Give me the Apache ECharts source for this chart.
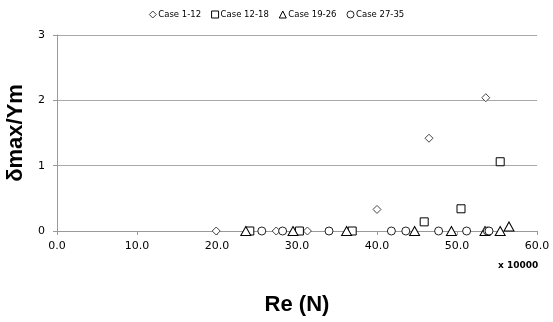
<!DOCTYPE html>
<html>
<head>
<meta charset="utf-8">
<script src="https://cdn.jsdelivr.net/npm/echarts@6/dist/echarts.min.js"></script>
<style>html,body{margin:0;padding:0;background:#fff}#c{width:553px;height:322px}</style>
</head>
<body>
<div id="c"></div>
<script>
var seriesNames = ['Case 1-12', 'Case 12-18', 'Case 19-26', 'Case 27-35'];
var case1_12 = [[19.9,0],[27.4,0],[31.3,0],[40.0,0.33],[46.5,1.42],[53.6,2.04]];
var case12_18 = [[24.1,0],[30.3,0],[36.9,0],[45.9,0.14],[50.5,0.34],[55.4,1.06]];
var case19_26 = [[23.6,0],[29.5,0],[36.2,0],[44.7,0],[49.3,0],[53.5,0],[55.4,0],[56.5,0.07]];
var case27_35 = [[25.6,0],[28.2,0],[34.0,0],[41.8,0],[43.6,0],[47.7,0],[51.2,0],[53.8,0],[54.0,0]];
var xTicks = [0,10,20,30,40,50,60];
var yTicks = [0,1,2,3];

var chart = echarts.init(document.getElementById('c'));
var font = 'Tahoma, "DejaVu Sans", sans-serif';
function sc(name, data, symbol, size, border) {
  return {
    name: name, type: 'scatter', data: data, symbol: symbol, symbolSize: size,
    itemStyle: {color: '#fff', borderColor: border, borderWidth: 1, opacity: 1},
    emphasis: {disabled: true}
  };
}
chart.setOption({
  animation: false,
  legend: {
    top: 5, left: 'center', itemWidth: 7, itemHeight: 7, itemGap: 10,
    itemStyle: {borderWidth: 1},
    textStyle: {fontSize: 8.5, fontFamily: font, color: '#000', padding: [0,0,0,-3]},
    data: seriesNames
  },
  grid: {left: 57, right: 16, top: 35, bottom: 91, outerBoundsMode: 'none', containLabel: false},
  xAxis: {
    type: 'value', min: xTicks[0], max: xTicks[xTicks.length-1], interval: 10,
    name: 'Re (N)', nameLocation: 'middle', nameGap: 63,
    nameTextStyle: {fontSize: 22, fontWeight: 'bold', fontFamily: 'Arial, "Liberation Sans", sans-serif', color: '#000'},
    axisLine: {show: true, lineStyle: {color: '#999'}},
    axisTick: {show: true, length: 4, lineStyle: {color: '#999'}},
    axisLabel: {fontSize: 11, fontFamily: font, color: '#000', margin: 10, formatter: function(v){return v.toFixed(1);}},
    splitLine: {show: false}
  },
  yAxis: {
    type: 'value', min: yTicks[0], max: yTicks[yTicks.length-1], interval: 1,
    name: 'δmax/Ym', nameLocation: 'middle', nameGap: 27,
    nameTextStyle: {fontSize: 22, fontWeight: 'bold', fontFamily: 'Arial, "Liberation Sans", sans-serif', color: '#000'},
    axisLine: {show: true, lineStyle: {color: '#999'}},
    axisTick: {show: true, length: 4, lineStyle: {color: '#999'}},
    axisLabel: {fontSize: 11, fontFamily: font, color: '#000', margin: 12},
    splitLine: {show: true, lineStyle: {color: '#a8a8a8'}}
  },
  graphic: [{
    type: 'text', left: 498, top: 261,
    style: {text: 'x 10000', fontSize: 9, fontWeight: 'bold', fontFamily: font, fill: '#000'}
  }],
  series: [
    sc(seriesNames[0], case1_12, 'diamond', [8,8], '#444'),
    sc(seriesNames[1], case12_18, 'rect', 8, '#000'),
    sc(seriesNames[2], case19_26, 'triangle', [10,9], '#000'),
    sc(seriesNames[3], case27_35, 'circle', 8, '#222')
  ]
});
</script>
</body>
</html>
